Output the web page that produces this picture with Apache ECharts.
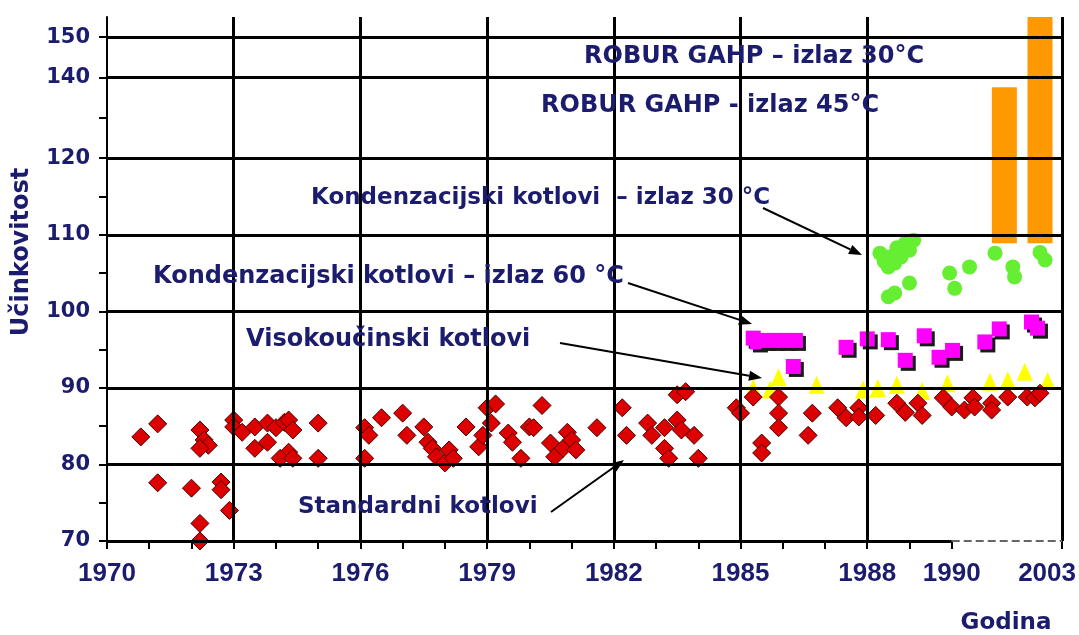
<!DOCTYPE html>
<html><head><meta charset="utf-8">
<script src="https://cdn.jsdelivr.net/npm/echarts@6/dist/echarts.min.js"></script>
<style>html,body{margin:0;padding:0;background:#fff}#c{width:1079px;height:635px}</style>
</head><body><div id="c"></div>
<script>
// ---- tick / grid values (real units) ----
const xLabelYears = [1970,1973,1976,1979,1982,1985,1988,1990,2003];
const xTickYears = [1970,1971,1972,1973,1974,1975,1976,1977,1978,1979,1980,1981,1982,1983,1984,1985,1986,1987,1988,1989,1990,2003];
const xGridYears = [1973,1976,1979,1982,1985,1988,2003];
const yLabelValues = [70,80,90,100,110,120,140,150];
const yTickValues = [70,75,80,85,90,95,100,105,110,115,120,130,140,150];
const yGridValues = [80,90,100,110,120,140,150];

// ---- data: [year, efficiency %] ----
const standardniKotlovi = [
 [1970.8,83.6],[1971.2,85.3],[1971.2,77.6],[1972.0,76.9],[1972.2,84.5],[1972.3,83.2],[1972.4,82.5],[1972.2,82.1],
 [1972.7,77.7],[1972.7,76.7],[1972.9,74.0],[1972.2,72.3],[1972.2,70.0],
 [1973.0,85.8],[1973.0,84.9],[1973.2,84.2],[1973.5,84.9],[1973.8,85.4],[1973.5,82.1],[1973.8,82.9],[1974.0,84.8],
 [1974.2,85.5],[1974.3,85.8],[1974.4,84.5],[1974.3,81.6],[1974.1,80.8],[1974.4,80.8],[1975.0,85.4],[1975.0,80.8],
 [1976.1,84.8],[1976.2,83.8],[1976.1,80.8],[1976.5,86.1],[1977.0,86.7],[1977.1,83.8],[1977.5,84.9],[1977.6,82.9],
 [1977.7,82.1],[1977.8,81.0],[1978.0,80.2],[1978.1,81.9],[1978.2,80.8],[1978.5,84.9],[1978.8,82.3],[1978.9,83.8],
 [1979.0,87.4],[1979.2,87.9],[1979.1,85.4],[1979.5,84.1],[1979.6,82.9],[1979.8,80.8],[1980.0,84.9],
 [1980.3,87.7],[1980.1,84.8],[1980.5,82.8],[1980.6,81.0],[1980.8,82.1],[1980.9,84.2],[1981.0,83.2],[1981.1,81.9],
 [1981.6,84.8],[1982.2,87.4],[1982.3,83.8],[1982.8,85.4],[1982.9,83.8],[1983.2,84.8],[1983.5,85.8],[1983.6,84.5],
 [1983.2,82.1],[1983.3,80.8],[1983.5,89.1],[1983.7,89.5],[1983.9,83.8],[1984.0,80.8],
 [1984.9,87.4],[1985.0,86.7],[1985.3,88.8],[1985.9,88.8],[1985.9,86.7],[1985.9,84.8],[1985.5,82.8],[1985.5,81.5],
 [1986.6,83.8],[1986.7,86.7],[1987.3,87.4],[1987.5,86.1],[1987.8,87.4],[1987.8,86.2],[1988.2,86.4],[1988.7,88.0],
 [1988.9,86.8],[1989.2,88.0],[1989.3,86.4],[1989.8,88.7],[1990.0,87.5],[1991.5,87.1],[1992.5,88.7],[1992.7,87.5],
 [1994.7,88.0],[1994.7,87.1],[1996.6,88.8],[1998.9,88.8],[1999.8,88.7],[2000.4,89.3]
];
const visokoucinskiKotlovi = [
 [1985.3,90.0],[1985.7,89.8],[1985.9,91.4],[1986.8,90.4],[1987.9,89.8],[1988.25,90.0],[1988.7,90.4],
 [1989.3,89.6],[1989.9,90.6],[1994.5,90.8],[1996.6,91.0],[1998.6,92.1],[2001.3,90.9]
];
const kondenzacijski60 = [
 [1985.3,96.5],[1985.4,96.0],[1985.6,96.2],[1985.8,96.2],[1986.05,96.2],[1986.3,96.2],[1986.25,92.8],
 [1987.5,95.3],[1988.0,96.4],[1988.5,96.3],[1988.9,93.6],[1989.35,96.8],[1989.7,94.0],[1990.1,94.9],
 [1993.9,96.0],[1995.6,97.7],[1999.4,98.6],[2000.1,97.8]
];
const kondenzacijski30 = [
 [1988.3,107.6],[1988.5,107.1],[1988.5,105.8],[1988.65,106.3],[1988.8,107.1],[1988.9,108.9],[1989.1,109.3],
 [1989.0,108.0],[1988.4,106.5],[1988.7,108.3],[1988.5,101.9],[1988.65,102.4],[1989.0,103.7],[1989.95,105.0],
 [1990.35,103.0],[1992.1,105.8],[1995.1,107.6],[1997.2,105.8],[1997.4,104.5],[2000.4,107.7],[2001.0,106.7]
];
// [year, from, to]
const roburGAHP = [[1996.2,108.9,137.6],[2000.4,108.9,155]];

// ---- broken-axis mapping (the original chart compresses x after 1990 and y above 120) ----
const BX = 1990, KX = 0.201, BY = 120, KY = 0.527;
const fx = v => v <= BX ? v : BX + (v - BX) * KX;
const ifx = v => v <= BX + 1e-9 ? v : BX + (v - BX) / KX;
const fy = v => v <= BY ? v : BY + (v - BY) * KY;
const ify = v => v <= BY + 1e-9 ? v : BY + (v - BY) / KY;
const mapPts = arr => arr.map(p => [fx(p[0]), fy(p[1])]);

const NAVY = '#1c1c6e';
const chart = echarts.init(document.getElementById('c'), null, {renderer:'canvas'});

const gridMarkLines = [
  ...yGridValues.map(v => ({yAxis: fy(v)})),
  ...xGridYears.map(v => ({xAxis: fx(v)}))
];

// annotation layout (pixel positions)
const notes = [
  {t:'ROBUR GAHP \u2013 izlaz 30°C', x:584, y:57, s:24},
  {t:'ROBUR GAHP - izlaz 45°C', x:541, y:106, s:24},
  {t:'Kondenzacijski kotlovi  \u2013 izlaz 30 °C', x:311, y:198, s:23},
  {t:'Kondenzacijski kotlovi \u2013 izlaz 60 °C', x:153, y:277, s:24},
  {t:'Visokoučinski kotlovi', x:246, y:340, s:24},
  {t:'Standardni kotlovi', x:298, y:507, s:23}
];
const arrows = [
  [763,208,862,255],
  [628,283,752,324],
  [560,343,762,378],
  [551,512,624,460]
];
const graphics = [];
notes.forEach(n => graphics.push({type:'text', x:n.x, y:n.y, z:100,
  style:{text:n.t, fill:NAVY, font:'bold ' + n.s + 'px "DejaVu Sans"', align:'left', verticalAlign:'middle'}}));
arrows.forEach(a => {
  const [x1,y1,x2,y2] = a;
  const ang = Math.atan2(y2-y1, x2-x1), L = 13, W = 5;
  const bx = x2 - L*Math.cos(ang), by = y2 - L*Math.sin(ang);
  graphics.push({type:'line', z:100, shape:{x1,y1,x2:bx,y2:by}, style:{stroke:'#000', lineWidth:2}});
  graphics.push({type:'polygon', z:100, shape:{points:[[x2,y2],[bx - W*Math.sin(ang), by + W*Math.cos(ang)],[bx + W*Math.sin(ang), by - W*Math.cos(ang)]]}, style:{fill:'#000'}});
});
graphics.push({type:'text', x:22, y:252, rotation:Math.PI/2, z:100,
  style:{text:'Učinkovitost', fill:NAVY, font:'bold 24px "DejaVu Sans"', align:'center', verticalAlign:'middle'}});
graphics.push({type:'text', x:1006, y:623, z:100,
  style:{text:'Godina', fill:NAVY, font:'bold 23px "DejaVu Sans"', align:'center', verticalAlign:'middle'}});

const option = {
  animation:false,
  backgroundColor:'#fff',
  grid:{left:107, right:16, top:17, bottom:94},
  xAxis:{
    type:'value', min:1970, max:fx(2003),
    axisLine:{show:false},
    splitLine:{show:false},
    axisTick:{show:true, length:8, inside:false, customValues:xTickYears.map(fx), lineStyle:{color:'#000', width:2}},
    axisLabel:{show:true, customValues:xLabelYears.map(fx), margin:20, color:NAVY,
      fontFamily:'Liberation Sans', fontWeight:'bold', fontSize:26,
      formatter: v => { const y = Math.round(ifx(v)); return y === 2003 ? '{r|2003}' : String(y); },
      rich:{r:{padding:[0,30,0,0], color:NAVY, fontFamily:'Liberation Sans', fontWeight:'bold', fontSize:26}}}
  },
  yAxis:{
    type:'value', min:70, max:fy(155),
    axisLine:{show:true, lineStyle:{color:'#000', width:2}},
    splitLine:{show:false},
    axisTick:{show:true, length:8, inside:false, customValues:yTickValues.map(fy), lineStyle:{color:'#000', width:2}},
    axisLabel:{show:true, customValues:yLabelValues.map(fy), margin:17, color:NAVY,
      fontFamily:'DejaVu Sans', fontWeight:'bold', fontSize:21,
      formatter: v => String(Math.round(ify(v)))}
  },
  series:[
    {type:'scatter', name:'grid', z:1, symbolSize:0, data:[[1970,70]], silent:true,
      markLine:{silent:true, symbol:['none','none'], label:{show:false}, animation:false,
        lineStyle:{color:'#000', width:3, type:'solid'},
        data:[
          ...gridMarkLines,
          [{coord:[1970,70]},{coord:[fx(1990),70]}],
          [{coord:[fx(1990),70], lineStyle:{type:'dashed', color:'#666', width:2}},{coord:[fx(2003),70]}]
        ]}},
    {type:'custom', name:'ROBUR GAHP', z:2,
      data: roburGAHP.map(r => [fx(r[0]), fy(r[1]), fy(r[2])]),
      encode:{x:0, y:[1,2]},
      renderItem:(params, api) => {
        const p1 = api.coord([api.value(0), api.value(1)]);
        const p2 = api.coord([api.value(0), api.value(2)]);
        const w = 25;
        return {type:'rect', shape:{x:p1[0]-w/2, y:p2[1], width:w, height:p1[1]-p2[1]}, style:{fill:'#ff9900'}};
      }},
    {type:'scatter', name:'Kondenzacijski 30', z:3, symbol:'circle', symbolSize:15,
      itemStyle:{color:'#66ee33', opacity:1}, data:mapPts(kondenzacijski30)},
    {type:'scatter', name:'Kondenzacijski 60', z:3, symbol:'rect', symbolSize:15,
      itemStyle:{color:'#ff00ff', shadowColor:'#1a1a1a', shadowOffsetX:3, shadowOffsetY:3, shadowBlur:0, opacity:1},
      data:mapPts(kondenzacijski60)},
    {type:'scatter', name:'Visokoučinski', z:3, symbol:'triangle', symbolSize:[16,18],
      itemStyle:{color:'#ffff00', opacity:1}, data:mapPts(visokoucinskiKotlovi)},
    {type:'scatter', name:'Standardni', z:3, symbol:'diamond', symbolSize:[18,18],
      itemStyle:{color:'#dd0000', borderColor:'#4a0000', borderWidth:1, opacity:1}, data:mapPts(standardniKotlovi)}
  ],
  graphic:graphics
};
chart.setOption(option);
</script>
</body></html>
